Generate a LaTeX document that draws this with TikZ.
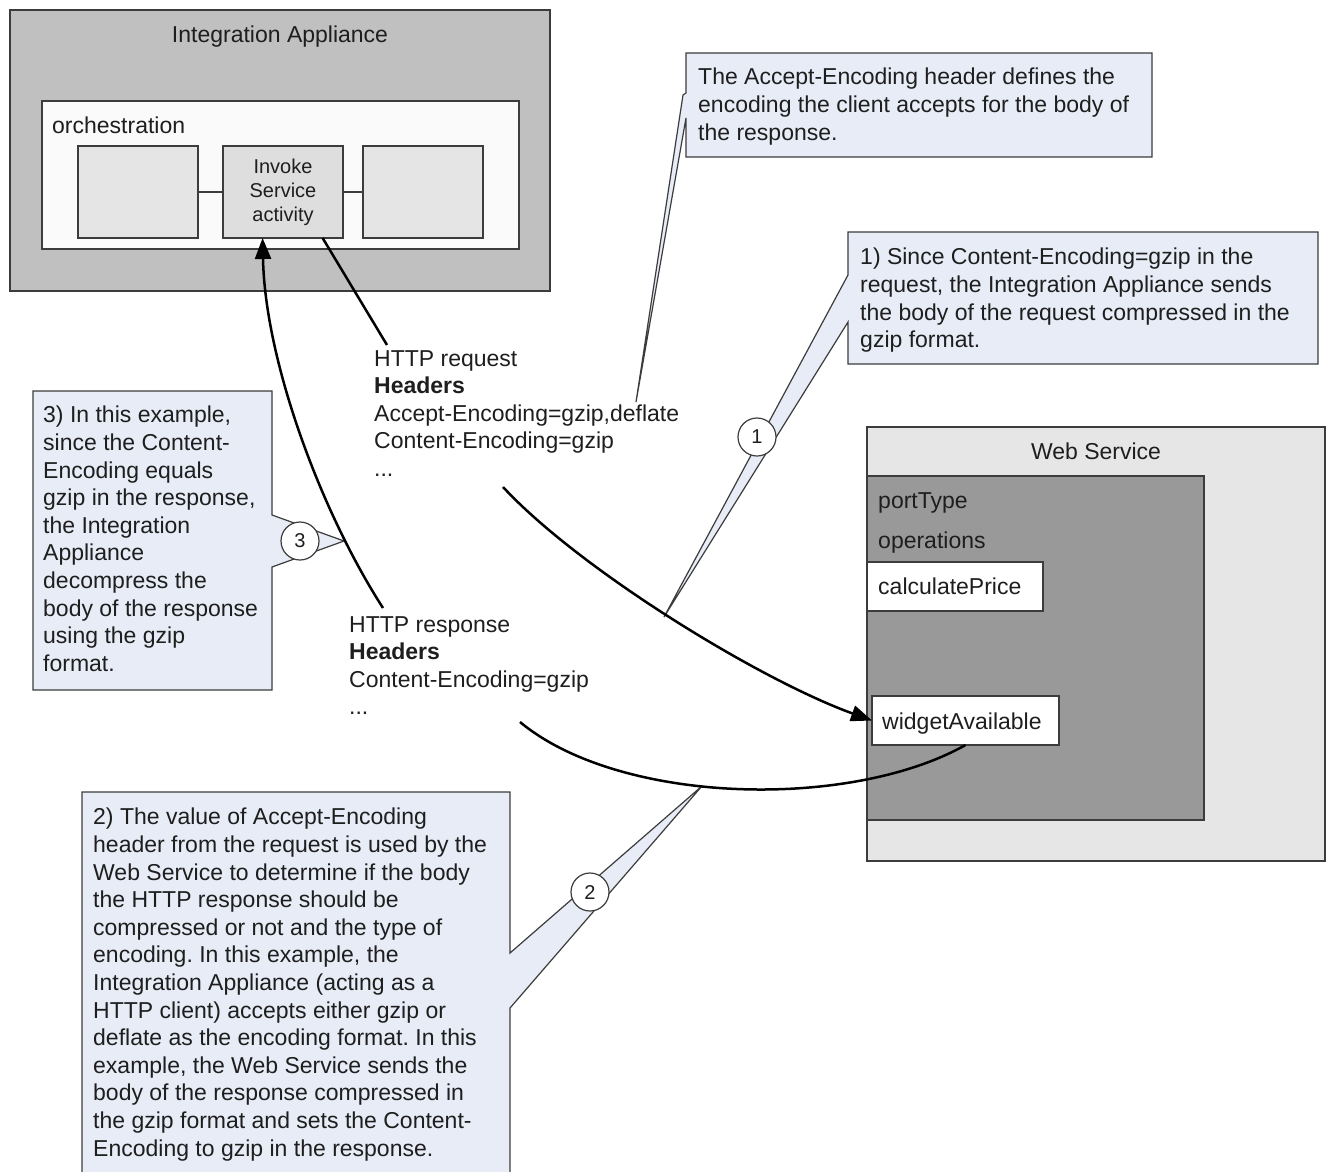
\documentclass[tikz,border=0pt]{standalone}
\usepackage{fontspec}
\setmainfont{Liberation Sans}
\usetikzlibrary{arrows.meta,calc}
\definecolor{iagray}{RGB}{192,192,192}
\definecolor{orchfill}{RGB}{250,250,250}
\definecolor{boxfill}{RGB}{229,229,229}
\definecolor{wsfill}{RGB}{230,230,230}
\definecolor{ptfill}{RGB}{153,153,153}
\definecolor{callfill}{RGB}{231,236,246}
\definecolor{edgecol}{RGB}{60,60,60}
\definecolor{txtcol}{RGB}{30,30,30}
\frenchspacing
\begin{document}
\begin{tikzpicture}[x=1pt,y=-1pt,
  rbox/.style={draw=edgecol, line width=1.4pt, anchor=north west, inner sep=0pt, outer sep=0pt},
  big/.style={font=\fontsize{23}{27.6}\selectfont\frenchspacing, text=txtcol},
  lbl/.style={big, inner sep=0pt, text height=16.5pt, text depth=0pt},
  ctext/.style={big, align=left, anchor=north west, inner sep=0pt},
  cshape/.style={draw=edgecol, line width=1.2pt, fill=callfill, line join=miter},
  conn/.style={line width=2.5pt, draw=black},
  tip/.style={-{Triangle[length=21pt,width=16pt]}},
  numc/.style={circle, draw=edgecol, line width=1.2pt, fill=white, minimum size=38pt, inner sep=0pt, font=\fontsize{20}{24}\selectfont, text=txtcol}
]
\useasboundingbox (0,0) rectangle (1332,1171);
\fill[white] (0,0) rectangle (1332,1171);

% Integration Appliance
\node[rbox, fill=iagray, minimum width=540pt, minimum height=281pt] (ia) at (10,10) {};
\node[lbl] (iatitle) at (280,34) {Integration Appliance};
\node[rbox, fill=orchfill, minimum width=477pt, minimum height=148pt] (orch) at (42,101) {};
\node[lbl, anchor=west] (orchlbl) at (52,125) {orchestration};
\node[rbox, fill=boxfill, minimum width=120pt, minimum height=92pt] (act1) at (78,146) {};
\node[rbox, fill=boxfill!97!black, minimum width=120pt, minimum height=92pt] (inv) at (223,146) {};
\node[rbox, fill=boxfill, minimum width=120pt, minimum height=92pt] (act3) at (363,146) {};
\node[font=\fontsize{20}{24}\selectfont, text=txtcol, align=center, inner sep=0pt] (invtxt) at (283,192) {Invoke\\Service\\activity};
\draw[draw=edgecol, line width=1.4pt] (act1.east) -- (inv.west);
\draw[draw=edgecol, line width=1.4pt] (inv.east) -- (act3.west);

% Web Service
\node[rbox, fill=wsfill, minimum width=458pt, minimum height=434pt] (ws) at (867,427) {};
\node[lbl] (wstitle) at (1096,451) {Web Service};
\node[rbox, fill=ptfill, minimum width=337pt, minimum height=344pt] (pt) at (867,476) {};
\node[lbl, anchor=west] (ptlbl) at (878,500) {portType};
\node[lbl, anchor=west] (oplbl) at (878,540) {operations};
\node[rbox, fill=white, minimum width=176pt, minimum height=49pt] (calc) at (867,562) {};
\node[lbl, anchor=west] (calctxt) at (878,586) {calculatePrice};
\node[rbox, fill=white, minimum width=187pt, minimum height=49pt] (wa) at (872,696) {};
\node[lbl, anchor=west] (watxt) at (882,721) {widgetAvailable};

% Callouts
\draw[cshape] (686,53) -- (1152,53) -- (1152,157) -- (686,157) -- (686,118) -- (636,402) -- (683,95) -- (686,93) -- cycle;
\node[ctext] (noteA) at (698,68) {The Accept-Encoding header defines the\\encoding the client accepts for the body of\\the response.};

\draw[cshape] (848,232) -- (1318,232) -- (1318,364) -- (848,364) -- (848,322) -- (664,617) -- (848,275) -- cycle;
\node[ctext] (note1) at (860,248) {1) Since Content-Encoding=gzip in the\\request, the Integration Appliance sends\\the body of the request compressed in the\\gzip format.};

\draw[cshape] (33,391) -- (272,391) -- (272,515) -- (344,541) -- (272,567) -- (272,690) -- (33,690) -- cycle;
\node[ctext] (note3) at (43,406) {3) In this example,\\since the Content-\\Encoding equals\\gzip in the response,\\the Integration\\Appliance\\decompress the\\body of the response\\using the gzip\\format.};

\draw[cshape] (82,792) -- (510,792) -- (510,953) -- (702,786) -- (510,1008) -- (510,1190) -- (82,1190) -- cycle;
\node[ctext] (note2) at (93,808) {2) The value of Accept-Encoding\\header from the request is used by the\\Web Service to determine if the body\\the HTTP response should be\\compressed or not and the type of\\encoding. In this example, the\\Integration Appliance (acting as a\\HTTP client) accepts either gzip or\\deflate as the encoding format. In this\\example, the Web Service sends the\\body of the response compressed in\\the gzip format and sets the Content-\\Encoding to gzip in the response.};

% Message labels
\node[ctext] (reqlbl) at (374,350) {HTTP request\\\textbf{Headers}\\Accept-Encoding=gzip,deflate\\Content-Encoding=gzip\\...};
\node[ctext] (resplbl) at (349,616) {HTTP response\\\textbf{Headers}\\Content-Encoding=gzip\\...};

% Connector end points
\coordinate (invout) at ($(inv.south west)!0.83!(inv.south east)$);
\coordinate (invin) at ($(inv.south west)!0.33!(inv.south east)$);
\coordinate (reqB) at (387,345);
\coordinate (reqC) at (503,487);
\coordinate (respB) at (520,722);
\coordinate (respC) at (383,608);

\draw[conn] (invout) -- (reqB);
\draw[conn, tip] (reqC) .. controls (580,570) and (760,680) .. (wa.west);
\draw[conn] (wa.south) .. controls (850,810) and (620,805) .. (respB);
\draw[conn, tip] (respC) .. controls (320,510) and (265,360) .. (invin);

% Number circles
\node[numc] (n1) at (757,437) {1};
\node[numc] (n2) at (590,892) {2};
\node[numc] (n3) at (300,541) {3};
\end{tikzpicture}
\end{document}
